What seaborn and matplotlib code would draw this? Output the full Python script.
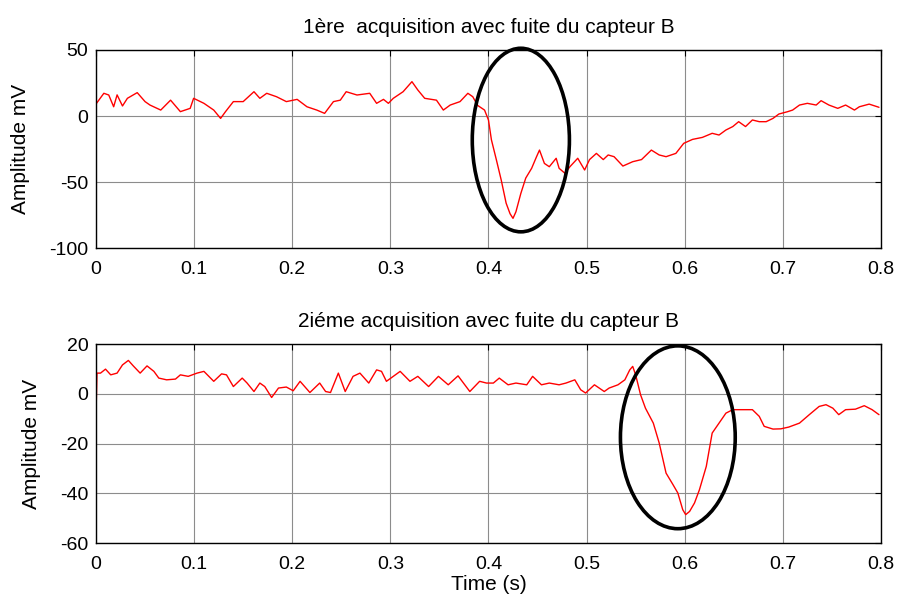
import matplotlib
matplotlib.use("Agg")
import matplotlib.pyplot as plt
import seaborn as sns
import pandas as pd
from matplotlib.patches import Ellipse

# ---- data ----
t1 = [0.0005, 0.008, 0.013, 0.018, 0.0215, 0.027, 0.032, 0.042, 0.050, 0.055,
      0.066, 0.076, 0.086, 0.096, 0.0995, 0.110, 0.120, 0.127, 0.132, 0.140,
      0.150, 0.161, 0.167, 0.174, 0.184, 0.194, 0.205, 0.215, 0.225, 0.233,
      0.242, 0.249, 0.255, 0.266, 0.279, 0.286, 0.293, 0.298, 0.303, 0.313,
      0.322, 0.328, 0.335, 0.347, 0.354, 0.361, 0.371, 0.379, 0.384, 0.389,
      0.396, 0.400, 0.403, 0.408, 0.413, 0.418, 0.422, 0.425, 0.428, 0.433,
      0.438, 0.444, 0.449, 0.452, 0.457, 0.462, 0.469, 0.472, 0.478, 0.483,
      0.491, 0.498, 0.503, 0.510, 0.517, 0.522, 0.528, 0.537, 0.547, 0.556,
      0.566, 0.574, 0.581, 0.591, 0.599, 0.608, 0.618, 0.628, 0.635, 0.642,
      0.649, 0.655, 0.662, 0.669, 0.676, 0.683, 0.690, 0.696, 0.705, 0.710,
      0.717, 0.725, 0.734, 0.739, 0.747, 0.756, 0.764, 0.773, 0.778, 0.788,
      0.798]
v1 = [9.6, 17.2, 15.9, 7.0, 16.0, 7.6, 13.4, 17.7, 10.9, 8.3,
      4.5, 12.0, 3.3, 5.8, 13.4, 9.6, 4.5, -1.8, 3.3, 10.9,
      10.9, 18.4, 13.4, 17.2, 14.6, 10.9, 12.6, 7.0, 4.5, 2.0,
      10.9, 12.0, 18.4, 15.9, 17.2, 9.6, 12.6, 9.6, 13.4, 18.4,
      26.0, 19.7, 13.4, 12.0, 4.5, 8.3, 10.9, 17.2, 14.6, 8.0,
      4.5, -3.0, -18.0, -33.0, -48.5, -66.0, -74.0, -77.5, -72.5, -58.6,
      -47.0, -39.6, -30.8, -25.8, -35.9, -38.4, -32.0, -39.6, -43.4, -38.4,
      -32.0, -40.9, -33.0, -28.3, -33.0, -29.5, -30.8, -37.9, -34.6, -33.0,
      -25.8, -29.5, -30.8, -28.3, -20.7, -17.7, -16.2, -13.1, -14.4, -10.6,
      -8.0, -4.3, -8.0, -3.0, -4.3, -4.3, -1.8, 1.5, 3.3, 4.5,
      8.3, 9.6, 8.3, 11.6, 8.3, 5.8, 8.3, 4.5, 7.0, 9.0,
      6.6]

t2 = [0.0, 0.001, 0.0046, 0.0097, 0.015, 0.0215, 0.027, 0.033, 0.038, 0.045,
      0.052, 0.059, 0.064, 0.072, 0.081, 0.086, 0.094, 0.103, 0.110, 0.120,
      0.128, 0.133, 0.140, 0.149, 0.154, 0.161, 0.167, 0.172, 0.179, 0.186,
      0.194, 0.201, 0.208, 0.218, 0.228, 0.234, 0.239, 0.247, 0.254, 0.262,
      0.269, 0.278, 0.286, 0.291, 0.296, 0.310, 0.320, 0.328, 0.339, 0.349,
      0.359, 0.369, 0.381, 0.391, 0.398, 0.405, 0.411, 0.420, 0.428, 0.439,
      0.445, 0.454, 0.462, 0.472, 0.479, 0.488, 0.494, 0.499, 0.508, 0.518,
      0.523, 0.532, 0.539, 0.544, 0.547, 0.550, 0.555, 0.560, 0.568, 0.574,
      0.581, 0.588, 0.593, 0.598, 0.601, 0.605, 0.610, 0.615, 0.622, 0.628,
      0.635, 0.642, 0.649, 0.659, 0.669, 0.676, 0.681, 0.690, 0.698, 0.706,
      0.717, 0.727, 0.737, 0.744, 0.751, 0.757, 0.764, 0.774, 0.783, 0.791,
      0.798]
v2 = [-8.4, 8.3, 8.3, 9.9, 7.6, 8.3, 11.6, 13.4, 11.2, 8.3,
      11.2, 9.0, 6.3, 5.6, 5.9, 7.6, 7.0, 8.3, 9.0, 5.0,
      8.0, 7.6, 2.9, 6.3, 4.3, 0.9, 4.3, 2.9, -1.5, 2.3,
      2.7, 1.2, 5.0, 0.5, 4.3, 0.9, 0.5, 8.3, 0.9, 7.0,
      8.3, 4.3, 9.6, 9.0, 5.0, 9.0, 5.0, 7.0, 2.9, 7.0,
      3.6, 7.2, 0.9, 5.0, 4.3, 4.3, 6.3, 3.6, 4.3, 3.6,
      7.0, 3.6, 4.3, 3.6, 4.3, 5.6, 1.6, 0.3, 3.6, 0.9,
      2.3, 3.6, 5.6, 9.6, 11.0, 7.6, -0.4, -5.8, -11.8, -19.8,
      -31.9, -36.5, -39.9, -46.6, -48.6, -47.3, -43.9, -38.6, -29.2, -15.8,
      -11.8, -7.8, -6.4, -6.4, -6.4, -9.1, -13.1, -14.2, -14.1, -13.4,
      -11.8, -8.4, -5.1, -4.4, -5.8, -8.4, -6.4, -6.2, -4.8, -6.4,
      -8.4]

titles = ["1ère  acquisition avec fuite du capteur B",
          "2iéme acquisition avec fuite du capteur B"]
xticks = [0, 0.1, 0.2, 0.3, 0.4, 0.5, 0.6, 0.7, 0.8]
xtick_labels = ["0", "0.1", "0.2", "0.3", "0.4", "0.5", "0.6", "0.7", "0.8"]
yticks1 = [-100, -50, 0, 50]
yticks2 = [-60, -40, -20, 0, 20]
# ellipses (centre t, centre mV, width s, height mV)
ell1 = (0.433, -18.2, 0.099, 139)
ell2 = (0.593, -17.5, 0.117, 73.5)

sns.set_style("white")
plt.rcParams['font.family'] = ['Liberation Sans', 'DejaVu Sans']
plt.rcParams['font.size'] = 14
plt.rcParams['axes.unicode_minus'] = False
plt.rcParams['text.color'] = 'black'
plt.rcParams['axes.labelcolor'] = 'black'

fig = plt.figure(figsize=(8.98, 6.08), dpi=100)
ax1 = fig.add_axes([0.1069, 0.592, 0.8741, 0.3258])
ax2 = fig.add_axes([0.1069, 0.1069, 0.8741, 0.3273])

df1 = pd.DataFrame({"t": t1, "v": v1})
df2 = pd.DataFrame({"t": t2, "v": v2})

for ax, df, title, yt, ylim, ell, lx in [
        (ax1, df1, titles[0], yticks1, (-100, 50), ell1, -0.084),
        (ax2, df2, titles[1], yticks2, (-60, 20), ell2, -0.070)]:
    sns.lineplot(data=df, x="t", y="v", ax=ax, color="#ff0000", lw=1.0,
                 estimator=None, sort=False)
    ax.set_xlim(0, 0.8)
    ax.set_ylim(*ylim)
    ax.set_xticks(xticks)
    ax.set_xticklabels(xtick_labels)
    ax.set_yticks(yt)
    ax.grid(True, color="#8c8c8c", lw=0.8)
    ax.tick_params(direction="in", top=True, right=True, length=4,
                   labelsize=14, colors="black")
    ax.tick_params(axis="x", pad=9)
    ax.tick_params(axis="y", pad=5.5)
    for s in ax.spines.values():
        s.set_color("black")
        s.set_linewidth(1.0)
    ax.set_title(title, fontsize=15, pad=12, color="black")
    ax.set_ylabel("Amplitude mV", fontsize=15, color="black")
    ax.yaxis.set_label_coords(lx, 0.5)
    ax.set_xlabel("")
    e = Ellipse((ell[0], ell[1]), ell[2], ell[3], fill=False, ec="black",
                lw=2.6, clip_on=False, zorder=5)
    ax.add_patch(e)

ax2.set_xlabel("Time (s)", fontsize=15, color="black", labelpad=2)

fig.savefig("out.png", dpi=100)
